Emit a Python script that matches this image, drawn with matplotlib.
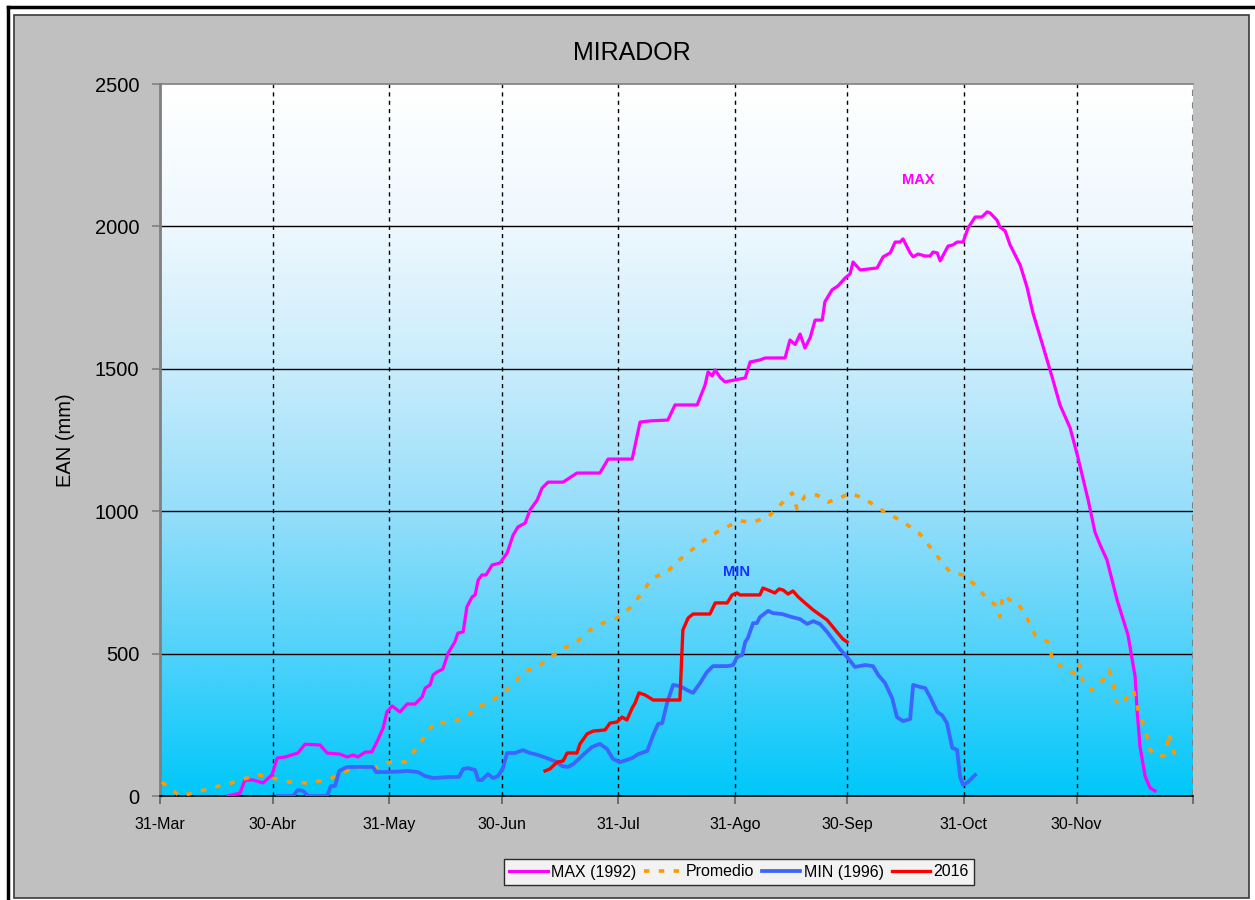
import numpy as np
import matplotlib
matplotlib.use("Agg")
import matplotlib.pyplot as plt
from matplotlib.colors import LinearSegmentedColormap
from matplotlib.patches import Rectangle
from matplotlib.lines import Line2D

plt.rcParams['font.family'] = ['Liberation Sans', 'DejaVu Sans']

# dias contados desde el 31-Mar
tick_days = [0, 30, 61, 91, 122, 153, 183, 214, 244]
tick_labels = ['31-Mar', '30-Abr', '31-May', '30-Jun', '31-Jul', '31-Ago',
               '30-Sep', '31-Oct', '30-Nov']
end_day = 275

max_days = [18.1, 21.3, 22.6, 24.8, 27.4, 29.8, 31.2, 33.3, 36.7, 38.6, 42.6, 44.5,
            47.9, 49.8, 51.4, 52.7, 54.6, 56.4, 58.0, 59.4, 60.4, 61.8, 63.9, 65.8,
            67.9, 69.8, 70.6, 71.9, 72.7, 73.7, 75.3, 76.7, 78.5, 79.3, 80.7, 81.7,
            83.1, 83.9, 84.7, 85.7, 86.8, 88.4, 90.5, 92.4, 94.0, 95.3, 97.2, 98.5,
            100.4, 101.7, 103.3, 107.3, 111.0, 117.1, 119.3, 125.7, 127.8, 130.5,
            135.2, 137.1, 143.0, 145.1, 145.9, 147.0, 147.8, 149.1, 150.4, 153.1,
            155.8, 157.1, 159.7, 161.1, 166.4, 167.7, 169.1, 170.4, 171.7, 173.1,
            174.4, 176.3, 177.0, 178.9, 180.5, 182.4, 183.7, 184.5, 186.4, 190.9,
            192.5, 194.4, 195.7, 197.0, 197.8, 199.7, 200.5, 201.8, 203.7, 205.0,
            205.8, 206.9, 207.7, 209.8, 211.1, 212.2, 213.8, 215.1, 217.0, 218.8,
            220.2, 221.0, 222.8, 223.6, 225.0, 226.3, 229.0, 230.8, 232.4, 234.8,
            237.5, 239.6, 242.3, 244.4, 247.1, 248.9, 250.3, 252.1, 254.8, 257.7,
            259.6, 260.1, 260.9, 262.3, 263.6, 264.9]
max_vals = [0, 10, 56, 56, 46, 74, 133, 137, 151, 182, 179, 151,
            147, 137, 144, 137, 154, 155, 197, 239, 295, 316, 295, 323,
            323, 348, 379, 390, 425, 435, 446, 502, 541, 572, 576, 664,
            699, 706, 758, 776, 776, 811, 818, 853, 916, 945, 958, 1004,
            1039, 1081, 1102, 1102, 1134, 1134, 1183, 1183, 1313, 1317,
            1320, 1373, 1373, 1443, 1489, 1475, 1496, 1470, 1454, 1461,
            1468, 1524, 1531, 1538, 1538, 1601, 1585, 1622, 1573, 1610,
            1671, 1671, 1735, 1777, 1791, 1819, 1833, 1875, 1847, 1854,
            1893, 1907, 1945, 1945, 1956, 1907, 1893, 1903, 1896, 1896,
            1910, 1907, 1879, 1931, 1935, 1945, 1945, 1994, 2033, 2033,
            2051, 2047, 2022, 1998, 1984, 1935, 1864, 1787, 1696, 1591,
            1471, 1373, 1292, 1187, 1039, 927, 881, 829, 688, 565,
            418, 302, 172, 67, 28, 18]

min_days = [31.4, 35.4, 36.7, 38.1, 39.4, 44.5, 45.5, 46.6, 47.7, 49.8, 56.7, 57.5,
            60.4, 63.9, 65.8, 68.7, 70.6, 72.7, 77.2, 79.6, 80.7, 82.0, 83.9, 84.7,
            85.7, 87.3, 88.7, 90.0, 91.3, 92.4, 94.5, 96.6, 98.5, 100.6, 103.0,
            105.7, 107.0, 108.6, 110.0, 112.6, 115.0, 117.1, 119.0, 120.6, 122.5,
            125.7, 127.3, 129.7, 131.3, 132.6, 133.7, 135.0, 136.6, 138.4, 140.3,
            141.9, 143.8, 145.6, 147.2, 151.0, 152.6, 153.6, 155.0, 155.8, 156.5,
            157.9, 158.9, 159.7, 161.9, 163.2, 165.6, 168.3, 170.4, 172.3, 173.9,
            175.7, 177.6, 179.2, 181.0, 182.9, 185.0, 187.7, 189.8, 191.2, 193.0,
            194.9, 196.2, 197.8, 199.7, 200.5, 202.3, 203.7, 205.0, 206.9, 208.2,
            209.5, 210.9, 212.2, 213.0, 213.8, 215.1, 217.0]
min_vals = [0, 0, 21, 18, 0, 0, 35, 35, 88, 102, 102, 84,
            84, 86, 88, 84, 70, 63, 67, 67, 95, 98, 91, 56,
            56, 77, 63, 70, 98, 151, 151, 161, 151, 144, 133,
            119, 105, 102, 112, 144, 172, 183, 165, 130, 119,
            133, 147, 158, 214, 253, 256, 327, 390, 386, 372,
            362, 397, 435, 456, 456, 460, 488, 495, 541, 555,
            607, 607, 628, 650, 642, 639, 628, 621, 604, 614,
            604, 576, 548, 516, 488, 453, 460, 456, 425, 397,
            344, 277, 263, 270, 390, 383, 379, 348, 295, 284,
            256, 169, 162, 67, 39, 49, 74]

y2016_days = [102.5, 103.8, 105.7, 107.3, 108.4, 111.0, 111.8, 113.7, 115.3, 118.5,
              119.8, 121.7, 123.0, 124.3, 125.7, 126.5, 127.5, 129.1, 131.3, 138.4,
              139.2, 140.6, 141.9, 146.4, 147.8, 151.0, 152.3, 153.6, 154.4, 159.7,
              160.5, 161.9, 163.7, 164.8, 165.9, 167.2, 168.5, 169.9, 171.7, 173.9,
              177.6, 180.2, 181.8, 182.9]
y2016_vals = [88, 95, 119, 123, 151, 151, 183, 218, 228, 232,
              256, 260, 277, 267, 309, 327, 362, 355, 337, 337,
              583, 625, 639, 639, 678, 678, 706, 713, 706, 706,
              730, 723, 713, 727, 723, 709, 720, 699, 678, 653,
              618, 576, 551, 541]

prom_days = [0.5, 5.3, 9.9, 14.6, 17.3, 21.3, 26.1, 30.1, 34.6, 39.1, 44.5, 47.9,
             51.4, 55.1, 57.8, 61.2, 65.2, 67.9, 71.1, 73.2, 77.2, 81.2, 84.4, 87.9,
             91.3, 94.5, 96.6, 100.4, 103.3, 107.0, 110.5, 114.5, 117.9, 121.7,
             125.1, 128.3, 131.0, 135.0, 137.6, 143.8, 148.3, 151.8, 154.4, 157.9,
             161.9, 165.1, 168.3, 169.6, 171.7, 174.9, 177.8, 181.0, 183.7, 187.7,
             191.2, 194.4, 197.0, 199.7, 202.3, 207.7, 210.3, 213.8, 217.0, 219.6,
             222.3, 223.6, 224.4, 226.3, 228.2, 230.8, 233.0, 236.4, 237.8, 240.9,
             244.1, 244.9, 245.7, 248.1, 251.6, 252.7, 253.8, 254.8, 256.4, 259.1,
             260.4, 262.3, 263.6, 265.7, 267.6, 268.7, 269.5, 271.0]
prom_vals = [49, 0, 14, 32, 39, 56, 74, 63, 49, 46, 56, 77,
             98, 102, 102, 119, 119, 161, 221, 260, 256, 277, 312, 330,
             362, 400, 435, 453, 481, 516, 537, 583, 607, 625,
             660, 713, 765, 786, 822, 888, 927, 951, 966, 962,
             980, 1022, 1064, 1008, 1053, 1057, 1032, 1046, 1064, 1043,
             1011, 987, 969, 945, 920, 829, 787, 776, 741, 702,
             671, 629, 706, 688, 681, 625, 565, 541, 471, 449,
             425, 460, 397, 372, 414, 442, 390, 320, 330, 372,
             302, 232, 162, 137, 144, 221, 169, 116]

W, H = 1255, 900
fig = plt.figure(figsize=(W / 100, H / 100), dpi=100, facecolor='white')

# marco exterior (por debajo de los ejes)
fig.add_artist(Line2D([8 / W, 1.0], [1 - 7 / H, 1 - 7 / H], color='black', lw=2.5,
                      transform=fig.transFigure, zorder=-2))
fig.add_artist(Line2D([8 / W, 8 / W], [0.0, 1 - 7 / H], color='black', lw=2.5,
                      transform=fig.transFigure, zorder=-2))
fig.add_artist(Rectangle((14 / W, 2 / H), (1249 - 14) / W, (898 - 15) / H,
                         transform=fig.transFigure, facecolor='#c0c0c0',
                         edgecolor='#3a3a3a', lw=1.2, zorder=-1))

ax = fig.add_axes([160 / W, (H - 796) / H, (1193 - 160) / W, (796 - 84) / H])
ax.set_xlim(0, end_day)
ax.set_ylim(0, 2500)

# fondo degradado
grad = LinearSegmentedColormap.from_list('fondo', [
    (0.0, (0 / 255, 200 / 255, 250 / 255)),
    (0.2, (80 / 255, 210 / 255, 250 / 255)),
    (0.4, (150 / 255, 222 / 255, 250 / 255)),
    (0.6, (200 / 255, 236 / 255, 252 / 255)),
    (0.8, (238 / 255, 248 / 255, 254 / 255)),
    (1.0, (1, 1, 1))])
ax.imshow(np.linspace(0, 1, 256).reshape(-1, 1), cmap=grad, origin='lower',
          extent=[0, end_day, 0, 2500], aspect='auto', zorder=0)

for y in [500, 1000, 1500, 2000]:
    ax.axhline(y, color='black', lw=1, zorder=1)
for d in tick_days[1:]:
    ax.axvline(d, color='black', lw=1, ls=(0, (3, 3)), zorder=1)
ax.axvline(end_day, color='#808080', lw=1.5, ls=(0, (3, 3)), zorder=1)

prom_ls = (0, (1.5, 2.6))
ax.plot(max_days, max_vals, color='#ff00ff', lw=2.3, zorder=3)
ax.plot(prom_days, prom_vals, color='#ff9900', lw=2.6, ls=prom_ls, zorder=3)
ax.plot(min_days, min_vals, color='#3c64ff', lw=2.7, zorder=3)
ax.plot(y2016_days, y2016_vals, color='#ff0000', lw=2.4, zorder=4)

ax.text(201.8, 2163, 'MAX', color='#ff00ff', fontsize=10.5, fontweight='bold',
        ha='center', va='center')
ax.text(153.5, 786, 'MIN', color='#1432ff', fontsize=10.5, fontweight='bold',
        ha='center', va='center')

for s in ['left', 'top']:
    ax.spines[s].set_color('#808080')
ax.spines['left'].set_linewidth(2)
ax.spines['top'].set_linewidth(1.2)
ax.spines['right'].set_visible(False)
ax.spines['bottom'].set_color('black')
ax.spines['bottom'].set_linewidth(1.2)

ax.set_yticks([0, 500, 1000, 1500, 2000, 2500])
ax.set_xticks(tick_days + [end_day])
ax.set_xticklabels(tick_labels + [''])
ax.tick_params(axis='y', direction='out', length=6, width=1.2, color='#808080',
               labelsize=14.5, pad=9)
ax.tick_params(axis='x', direction='out', length=6, width=1.2, color='#606060',
               labelsize=11.5, pad=9)

ax.set_ylabel('EAN (mm)', fontsize=14.5)
ax.yaxis.set_label_coords(-0.082, 0.5)

fig.text(632 / W, 1 - 53 / H, 'MIRADOR', fontsize=18, ha='center', va='center')

handles = [Line2D([], [], color='#ff00ff', lw=2.3),
           Line2D([], [], color='#ff9900', lw=2.6, ls=prom_ls),
           Line2D([], [], color='#3c64ff', lw=2.7),
           Line2D([], [], color='#ff0000', lw=2.4)]
leg = fig.legend(handles, ['MAX (1992)', 'Promedio', 'MIN (1996)', '2016'],
                 loc='center', bbox_to_anchor=(739 / W, 1 - 872 / H), ncol=4,
                 fontsize=11.5, frameon=True, fancybox=False, edgecolor='black',
                 handlelength=2.4, handletextpad=0.2, columnspacing=0.5,
                 borderpad=0.35, borderaxespad=0)
leg.get_frame().set_linewidth(1)

fig.savefig('out.png', dpi=100, facecolor='white')
